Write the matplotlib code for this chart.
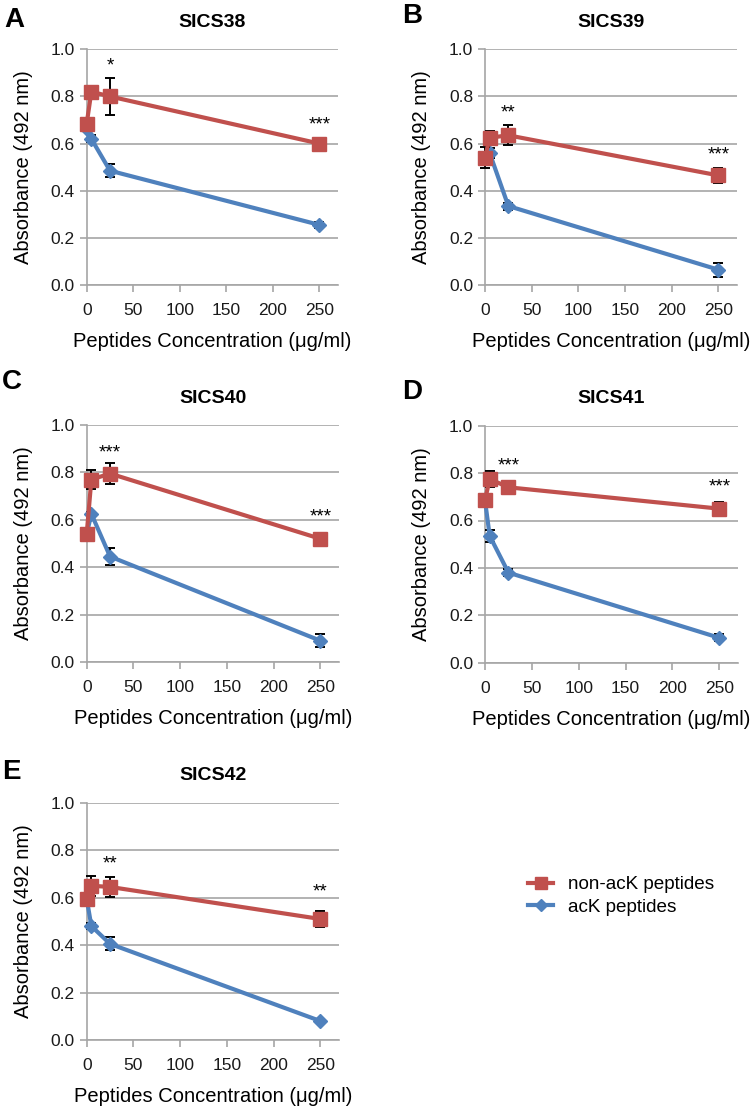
import matplotlib
matplotlib.use('Agg')
import matplotlib.pyplot as plt
from matplotlib.lines import Line2D

plt.rcParams['font.family'] = ['Liberation Sans', 'DejaVu Sans']

W, H = 750, 1106

conc = [0, 5, 25, 250]
panel_letters = ['A', 'B', 'C', 'D', 'E']
titles = ['SICS38', 'SICS39', 'SICS40', 'SICS41', 'SICS42']

# non-acK peptides (red)
red_sics38 = [0.685, 0.82, 0.80, 0.60]
red_sics39 = [0.54, 0.625, 0.635, 0.465]
red_sics40 = [0.54, 0.77, 0.795, 0.52]
red_sics41 = [0.685, 0.775, 0.74, 0.65]
red_sics42 = [0.595, 0.65, 0.645, 0.51]
red_err38 = [0.005, 0.005, 0.08, 0.008]
red_err39 = [0.045, 0.03, 0.043, 0.032]
red_err40 = [0.0, 0.042, 0.043, 0.025]
red_err41 = [0.0, 0.035, 0.01, 0.03]
red_err42 = [0.02, 0.042, 0.042, 0.034]

# acK peptides (blue)
blue_sics38 = [0.66, 0.62, 0.485, 0.255]
blue_sics39 = [0.54, 0.56, 0.335, 0.065]
blue_sics40 = [0.54, 0.625, 0.445, 0.09]
blue_sics41 = [0.685, 0.535, 0.38, 0.105]
blue_sics42 = [0.595, 0.48, 0.405, 0.08]
blue_err38 = [0.0, 0.015, 0.027, 0.012]
blue_err39 = [0.0, 0.02, 0.015, 0.03]
blue_err40 = [0.0, 0.01, 0.035, 0.028]
blue_err41 = [0.0, 0.027, 0.015, 0.015]
blue_err42 = [0.0, 0.012, 0.027, 0.005]

# significance marks: (x, y, text)
stars38 = [(25, 0.93, '*'), (250, 0.68, '***')]
stars39 = [(25, 0.73, '**'), (250, 0.55, '***')]
stars40 = [(25, 0.88, '***'), (250, 0.61, '***')]
stars41 = [(25, 0.83, '***'), (250, 0.74, '***')]
stars42 = [(25, 0.74, '**'), (250, 0.625, '**')]

reds = [red_sics38, red_sics39, red_sics40, red_sics41, red_sics42]
red_errs = [red_err38, red_err39, red_err40, red_err41, red_err42]
blues = [blue_sics38, blue_sics39, blue_sics40, blue_sics41, blue_sics42]
blue_errs = [blue_err38, blue_err39, blue_err40, blue_err41, blue_err42]
stars = [stars38, stars39, stars40, stars41, stars42]

# axes rectangles in pixels: left, right, top, bottom
rects = [(86.7, 338, 49.3, 285), (485, 737, 49.3, 285),
         (86.7, 339, 425, 662), (485, 738, 425.7, 662.7),
         (86.7, 339, 802.7, 1040)]
letter_pos = [(4, 20), (402, 16), (2, 382), (402, 392), (2, 772)]

RED = '#C0504D'
BLUE = '#4F81BD'
GRID = '#A6A6A6'

fig = plt.figure(figsize=(W / 100, H / 100), dpi=100)

for i in range(5):
    l, r, t, b = rects[i]
    ax = fig.add_axes([l / W, 1 - b / H, (r - l) / W, (b - t) / H])
    ax.set_xlim(0, 270)
    ax.set_ylim(0, 1.0)
    ax.set_yticks([0, 0.2, 0.4, 0.6, 0.8, 1.0])
    ax.set_yticklabels(['0.0', '0.2', '0.4', '0.6', '0.8', '1.0'])
    ax.set_xticks([0, 50, 100, 150, 200, 250])
    ax.yaxis.grid(True, color=GRID, lw=1.2)
    ax.set_axisbelow(True)
    for s in ['top', 'right']:
        ax.spines[s].set_visible(False)
    for s in ['left', 'bottom']:
        ax.spines[s].set_color(GRID)
        ax.spines[s].set_linewidth(1.2)
    ax.tick_params(axis='both', colors=GRID, labelcolor='#1a1a1a',
                   length=5, width=1.2, labelsize=12.5, direction='out')
    ax.tick_params(axis='x', pad=8)

    ax.errorbar(conc, blues[i], yerr=blue_errs[i], fmt='none', ecolor='black',
                elinewidth=1.4, capsize=3.5, capthick=1.4, zorder=3, clip_on=False)
    ax.errorbar(conc, reds[i], yerr=red_errs[i], fmt='none', ecolor='black',
                elinewidth=1.4, capsize=3.5, capthick=1.4, zorder=5, clip_on=False)
    ax.plot(conc, blues[i], color=BLUE, lw=3, marker='D', markersize=7,
            zorder=4, clip_on=False)
    ax.plot(conc, reds[i], color=RED, lw=3, marker='s', markersize=10,
            zorder=6, clip_on=False)

    for (sx, sy, st) in stars[i]:
        ax.text(sx, sy, st, ha='center', va='center', fontsize=13.5, color='black')

    ax.set_title(titles[i], fontsize=14, fontweight='bold', pad=16)
    ax.set_ylabel('Absorbance (492 nm)', fontsize=14.5, labelpad=13)
    ax.set_xlabel('Peptides Concentration (\u03bcg/ml)', fontsize=14.5, labelpad=10)

    lx, ly = letter_pos[i]
    fig.text(lx / W, 1 - ly / H, panel_letters[i], fontsize=20, fontweight='bold',
             ha='left', va='center')

handles = [Line2D([0], [0], color=RED, lw=3, marker='s', markersize=8),
           Line2D([0], [0], color=BLUE, lw=3, marker='D', markersize=6)]
fig.legend(handles, ['non-acK peptides', 'acK peptides'], loc='center left',
           bbox_to_anchor=(519 / W, 1 - 896 / H), frameon=False, fontsize=13.6,
           handlelength=1.3, handletextpad=0.8, labelspacing=0.3, borderpad=0)

fig.savefig('out.png', dpi=100)
